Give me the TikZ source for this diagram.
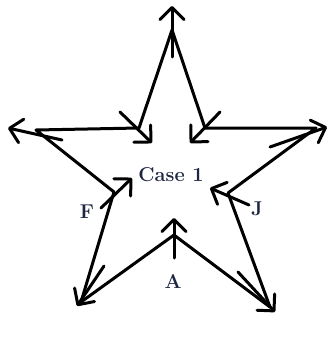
\documentclass[tikz,border=0pt]{standalone}
\usetikzlibrary{arrows.meta}
\definecolor{labelnavy}{RGB}{30,38,66}
\tikzset{
  staredge/.style={
    draw=black,
    line width=3pt,
    line cap=round,
    line join=round
  },
  vecarrow/.style={
    draw=black,
    line width=3pt,
    line cap=round,
    -{Straight Barb[length=12pt,width=24pt,round]}
  },
  caselabel/.style={
    text=labelnavy,
    inner sep=0pt,
    font=\fontsize{20}{22}\selectfont\bfseries
  }
}

\begin{document}
\begin{tikzpicture}[x=1pt,y=-1pt]

  \useasboundingbox (0,0) rectangle (331,337);

  % Outer points of the star.
  \coordinate (OT)  at (172, 30);
  \coordinate (OL)  at ( 36,130);
  \coordinate (OR)  at (316,128);
  \coordinate (OBL) at ( 81,302);
  \coordinate (OBR) at (270,307);

  % Inner corners of the star.
  \coordinate (ITL) at (139,128);
  \coordinate (ITR) at (205,128);
  \coordinate (IL)  at (114,192);
  \coordinate (IR)  at (228,193);
  \coordinate (IB)  at (174,235);

  % Star outline.
  \draw[staredge] (OT) -- (ITR) -- (OR) -- (IR) -- (OBR) -- (IB)
    -- (OBL) -- (IL) -- (OL) -- (ITL) -- cycle;

  % Outward vectors at the outer points.
  \coordinate (tTop) at (172,  6);  \coordinate (sTop) at (172, 57);
  \coordinate (tL)   at (  8,128);  \coordinate (sL)   at ( 62,140);
  \coordinate (tR)   at (327,127);  \coordinate (sR)   at (270,147);
  \coordinate (tBL)  at ( 77,306);  \coordinate (sBL)  at (104,266);
  \coordinate (tBR)  at (275,312);  \coordinate (sBR)  at (238,272);
  \draw[vecarrow] (sTop) -- (tTop);
  \draw[vecarrow] (sL) -- (tL);
  \draw[vecarrow] (sR) -- (tR);
  \draw[vecarrow] (sBL) -- (tBL);
  \draw[vecarrow] (sBR) -- (tBR);

  % Inward vectors at the inner corners.
  \coordinate (sITL) at (120,112);  \coordinate (tITL) at (152,143);
  \coordinate (sITR) at (220,112);  \coordinate (tITR) at (190,143);
  \coordinate (sIL)  at (101,208);  \coordinate (tIL)  at (132,178);
  \coordinate (sIR)  at (249,205);  \coordinate (tIR)  at (210,188);
  \coordinate (sIB)  at (174,258);  \coordinate (tIB)  at (174,218);
  \draw[vecarrow] (sITL) -- (tITL);
  \draw[vecarrow] (sITR) -- (tITR);
  \draw[vecarrow] (sIL) -- (tIL);
  \draw[vecarrow] (sIR) -- (tIR);
  \draw[vecarrow] (sIB) -- (tIB);

  % Labels.
  \node[caselabel] (case) at (171,175) {Case 1};
  \node[caselabel] (F) at ( 87,212) {F};
  \node[caselabel] (J) at (257,209) {J};
  \node[caselabel] (A) at (173,281) {A};

\end{tikzpicture}
\end{document}
